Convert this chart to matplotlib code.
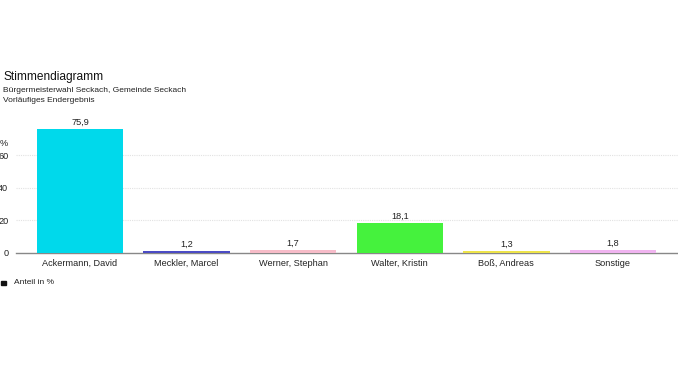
import matplotlib.pyplot as plt

plt.rcParams["font.family"] = ["Liberation Sans", "DejaVu Sans"]

# Stimmenanteile in %
kandidaten = ["Ackermann, David", "Meckler, Marcel", "Werner, Stephan",
              "Walter, Kristin", "Boß, Andreas", "Sonstige"]
anteile = [75.9, 1.2, 1.7, 18.1, 1.3, 1.8]
farben = ["#00d9eb", "#4b4bc4", "#f7bcc8", "#45f23d", "#eee44a", "#f0b4f0"]
y_ticks = [0, 20, 40, 60]

fig = plt.figure(figsize=(6.78, 3.81), dpi=100)
W, H = 678, 381
# axes placed in pixel terms of the reference
ax = fig.add_axes([16 / W, (H - 253) / H, 662 / W, 143 / H])

x = list(range(len(kandidaten)))
ax.bar(x, anteile, width=0.81, color=farben, zorder=3)
for xi, v in zip(x, anteile):
    ax.text(xi, v + 1.5, f"{v:.1f}".replace(".", ","), ha="center", va="bottom",
            fontsize=6.6, color="#222222")

ax.set_xlim(-0.6, 5.61)
ax.set_ylim(0, 87.6)
ax.set_yticks(y_ticks)
ax.set_yticklabels([str(t) for t in y_ticks])
ax.set_xticks(x)
ax.set_xticklabels(kandidaten)
ax.tick_params(axis="y", length=0, pad=5.5, labelsize=6.6, labelcolor="#222222")
ax.tick_params(axis="x", length=0, pad=4.5, labelsize=6.6, labelcolor="#222222")

for s in ["top", "right", "left"]:
    ax.spines[s].set_visible(False)
ax.spines["bottom"].set_color("#888888")
ax.spines["bottom"].set_linewidth(1.0)

for t in y_ticks[1:]:
    ax.axhline(t, color="#e2e2e2", lw=0.8, ls=(0, (1, 1)), zorder=1)

ax.text(-0.012, 1.0 - (143 - 110) / 143, "%", transform=ax.transAxes,
        ha="right", va="center", fontsize=6.6, color="#222222")

fig.text(3 / W, 1 - 77 / H, "Stimmendiagramm", fontsize=8.6, va="center", color="#111111")
fig.text(3 / W, 1 - 90 / H, "Bürgermeisterwahl Seckach, Gemeinde Seckach",
         fontsize=6.0, va="center", color="#222222")
fig.text(3 / W, 1 - 101 / H, "Vorläufiges Endergebnis", fontsize=6.0, va="center",
         color="#222222")

# legend
fig.patches.append(plt.Rectangle((1 / W, 1 - 285 / H), 5 / W, 4 / H,
                                 transform=fig.transFigure, color="#111111"))
fig.text(14 / W, 1 - 283 / H, "Anteil in %", fontsize=6.0, va="center", color="#222222")

fig.savefig("out.png", dpi=100)
